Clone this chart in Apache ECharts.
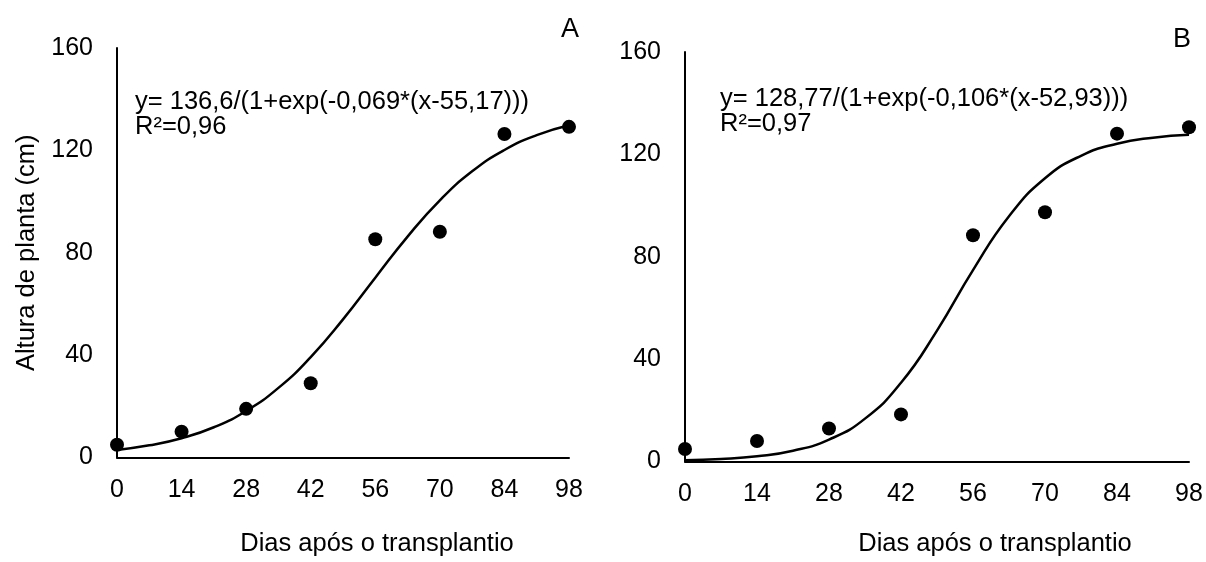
<!DOCTYPE html>
<html>
<head>
<meta charset="utf-8">
<script src="https://cdn.jsdelivr.net/npm/echarts@6/dist/echarts.min.js"></script>
<style>
html,body{margin:0;padding:0;background:#fff;}
#chart{width:1206px;height:562px;}
</style>
</head>
<body>
<div id="chart"></div>
<script>
// Observed data (days after transplant vs plant height, cm)
const days = [0, 14, 28, 42, 56, 70, 84, 98];
const alturaA = [5.0, 10.1, 19.0, 29.0, 85.3, 88.2, 126.4, 129.2];
const alturaB = [4.9, 8.0, 12.9, 18.4, 88.4, 97.4, 128.1, 130.6];

// Fitted curves
const curveDays = [0, 7, 14, 21, 28, 35, 42, 49, 56, 63, 70, 77, 84, 91, 98];
const curveA = [2.97, 4.75, 7.53, 11.81, 18.17, 27.20, 39.24, 53.98, 70.26, 86.31, 100.49, 111.81, 120.16, 125.97, 129.84];
const curveB = [0.47, 0.98, 2.05, 4.22, 8.56, 16.75, 30.76, 51.16, 74.77, 95.82, 110.65, 119.45, 124.16, 126.53, 127.70];

const xTicks = [0, 14, 28, 42, 56, 70, 84, 98];
const yTicks = [0, 40, 80, 120, 160];

const eqA = 'y= 136,6/(1+exp(-0,069*(x-55,17)))';
const r2A = 'R²=0,96';
const eqB = 'y= 128,77/(1+exp(-0,106*(x-52,93)))';
const r2B = 'R²=0,97';

const xTitle = 'Dias após o transplantio';
const yTitle = 'Altura de planta (cm)';

const FONT = "'Liberation Sans', Arial, sans-serif";
const pair = (xs, ys) => xs.map((x, i) => [x, ys[i]]);

function xAxisFor(gridIndex, gap, shift) {
  return {
    gridIndex, type: 'value',
    min: xTicks[0], max: xTicks[xTicks.length - 1], interval: xTicks[1] - xTicks[0],
    axisLine: { show: true, onZero: false, lineStyle: { color: '#000', width: 2 } },
    axisTick: { show: false },
    splitLine: { show: false },
    axisLabel: { color: '#000', fontSize: 25, fontFamily: FONT, margin: 20 },
    name: xTitle, nameLocation: 'middle', nameGap: gap,
    nameTextStyle: { color: '#000', fontSize: 25.5, fontFamily: FONT, lineHeight: 25, padding: [0, 0, 0, shift] }
  };
}
function yAxisFor(gridIndex, withName) {
  const a = {
    gridIndex, type: 'value',
    min: yTicks[0], max: yTicks[yTicks.length - 1], interval: yTicks[1] - yTicks[0],
    axisLine: { show: true, lineStyle: { color: '#000', width: 2 } },
    axisTick: { show: false },
    splitLine: { show: false },
    axisLabel: { color: '#000', fontSize: 25, fontFamily: FONT, margin: 24 }
  };
  if (withName) {
    a.name = yTitle;
    a.nameLocation = 'middle';
    a.nameGap = 78;
    a.nameTextStyle = { color: '#000', fontSize: 25.5, fontFamily: FONT, lineHeight: 25 };
  }
  return a;
}

const chart = echarts.init(document.getElementById('chart'), null, { renderer: 'canvas' });
chart.setOption({
  backgroundColor: '#ffffff',
  animation: false,
  grid: [
    { left: 117, top: 48, width: 452, height: 414 },
    { left: 685, top: 52, width: 504, height: 414 }
  ],
  xAxis: [xAxisFor(0, 74, 68), xAxisFor(1, 70, 116)],
  yAxis: [yAxisFor(0, true), yAxisFor(1, false)],
  graphic: [
    { type: 'text', x: 135, y: 89, style: { text: eqA + '\n' + r2A, font: '25.5px ' + FONT, fill: '#000', lineHeight: 25, textVerticalAlign: 'top' } },
    { type: 'text', x: 720, y: 86, style: { text: eqB + '\n' + r2B, font: '25.5px ' + FONT, fill: '#000', lineHeight: 25, textVerticalAlign: 'top' } },
    { type: 'text', x: 570, y: 30, style: { text: 'A', font: '27px ' + FONT, fill: '#000', textAlign: 'center', textVerticalAlign: 'middle' } },
    { type: 'text', x: 1182, y: 40, style: { text: 'B', font: '27px ' + FONT, fill: '#000', textAlign: 'center', textVerticalAlign: 'middle' } }
  ],
  series: [
    { name: 'Ajuste A', type: 'line', xAxisIndex: 0, yAxisIndex: 0, data: pair(curveDays, curveA), smooth: 0.5, showSymbol: false, clip: false, lineStyle: { color: '#000', width: 2.5 }, z: 2 },
    { name: 'Observado A', type: 'scatter', xAxisIndex: 0, yAxisIndex: 0, data: pair(days, alturaA), symbol: 'circle', symbolSize: 14, clip: false, itemStyle: { color: '#000', opacity: 1 }, z: 3 },
    { name: 'Ajuste B', type: 'line', xAxisIndex: 1, yAxisIndex: 1, data: pair(curveDays, curveB), smooth: 0.5, showSymbol: false, clip: false, lineStyle: { color: '#000', width: 2.5 }, z: 2 },
    { name: 'Observado B', type: 'scatter', xAxisIndex: 1, yAxisIndex: 1, data: pair(days, alturaB), symbol: 'circle', symbolSize: 14, clip: false, itemStyle: { color: '#000', opacity: 1 }, z: 3 }
  ]
});
</script>
</body>
</html>
